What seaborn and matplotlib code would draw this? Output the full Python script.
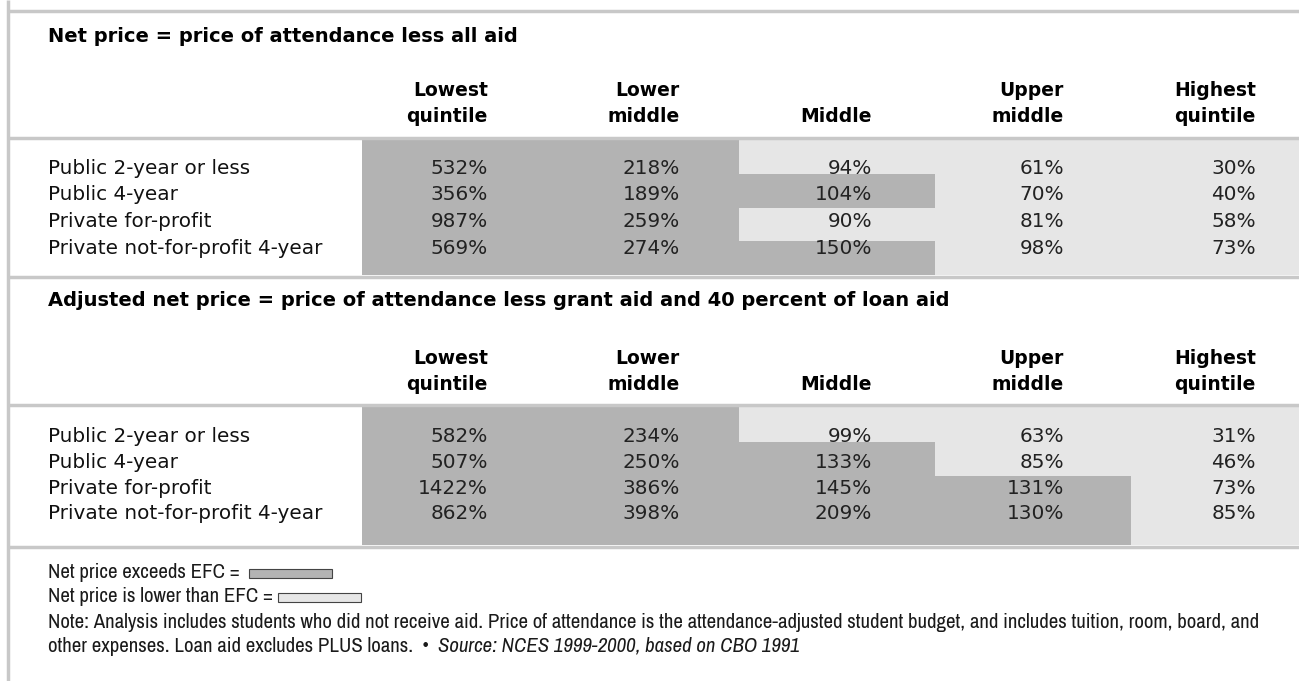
import numpy as np
import pandas as pd
import matplotlib
matplotlib.use('Agg')
import matplotlib.pyplot as plt
import matplotlib.font_manager as fm
from matplotlib.colors import ListedColormap
from matplotlib.patches import Rectangle
from matplotlib.transforms import blended_transform_factory, IdentityTransform
import seaborn as sns

sectors = ['Public 2-year or less', 'Public 4-year', 'Private for-profit',
           'Private not-for-profit 4-year']
quintiles = ['Lowest quintile', 'Lower middle', 'Middle', 'Upper middle', 'Highest quintile']
hdr_top = ['Lowest', 'Lower', '', 'Upper', 'Highest']
hdr_bot = ['quintile', 'middle', 'Middle', 'middle', 'quintile']

net_price = [[532, 218, 94, 61, 30],
             [356, 189, 104, 70, 40],
             [987, 259, 90, 81, 58],
             [569, 274, 150, 98, 73]]
adj_net_price = [[582, 234, 99, 63, 31],
                 [507, 250, 133, 85, 46],
                 [1422, 386, 145, 131, 73],
                 [862, 398, 209, 130, 85]]

titles = ['Net price = price of attendance less all aid',
          'Adjusted net price = price of attendance less grant aid and 40 percent of loan aid']

DARK = '#b3b3b3'
LIGHT = '#e6e6e6'
LINE = '#c8c8c8'

W, H = 1299, 681
sns.set_theme(style='white')
plt.rcParams['font.family'] = ['DejaVu Sans']

# narrow font for the notes if one is installed
note_family, note_stretch = 'Liberation Sans', 'normal'
for f in fm.fontManager.ttflist:
    if 'Narrow' in f.name or 'Condensed' in f.name:
        note_family = f.name
        break
else:
    for f in fm.fontManager.ttflist:
        if str(f.stretch) in ('condensed', 'semi-condensed', 'extra-condensed', '700', '750', '625'):
            note_family, note_stretch = f.name, f.stretch
            break

fig = plt.figure(figsize=(W / 100, H / 100), dpi=100)

def px_axes(x0, y0, x1, y1):
    # axes placed by pixel box (top-left origin)
    return fig.add_axes([x0 / W, 1 - y1 / H, (x1 - x0) / W, (y1 - y0) / H])

col_right = [488, 680, 872, 1064, 1256]
label_x = 48

# layout of the two blocks: title y, header y's, shading box, first row y, row pitch
blocks = [
    dict(data=net_price, title=titles[0], ty=37, h1=90, h2=116, top=140, bot=275, r0=168, pitch=26.7),
    dict(data=adj_net_price, title=titles[1], ty=300, h1=358, h2=384, top=407, bot=545, r0=437, pitch=25.5),
]

cmap = ListedColormap([LIGHT, DARK])
for b in blocks:
    df = pd.DataFrame(b['data'], index=sectors, columns=quintiles)
    ax = px_axes(362, b['top'], W, b['bot'])
    sns.heatmap((df > 100).astype(int), ax=ax, cmap=cmap, vmin=0, vmax=1, cbar=False,
                xticklabels=False, yticklabels=False, linewidths=0)
    # columns are ~196px wide; the first one is partly hidden by the label column
    ax.set_xlim(15 / 196, 15 / 196 + (W - 362) / 196)
    ax.set_axis_off()

ov = fig.add_axes([0, 0, 1, 1])
ov.set_xlim(0, W)
ov.set_ylim(H, 0)
ov.set_axis_off()

# frame lines
ov.plot([8, 8], [0, H], color=LINE, lw=2.5, solid_capstyle='butt')
for y in [11, 138, 277, 405, 547]:
    ov.plot([8, W], [y, y], color=LINE, lw=2.5, solid_capstyle='butt')

hfont = dict(fontsize=13.5, fontweight='bold', color='black')
for b in blocks:
    ov.text(label_x, b['ty'], b['title'], fontsize=14, fontweight='heavy',
            va='center', ha='left', color='black')
    for x, t1, t2 in zip(col_right, hdr_top, hdr_bot):
        if t1:
            ov.text(x, b['h1'], t1, ha='right', va='center', **hfont)
        ov.text(x, b['h2'], t2, ha='right', va='center', **hfont)
    for i, (name, row) in enumerate(zip(sectors, b['data'])):
        y = b['r0'] + i * b['pitch']
        ov.text(label_x, y, name, ha='left', va='center', fontsize=14.4, color='#111111')
        for x, v in zip(col_right, row):
            ov.text(x, y, f'{v}%', ha='right', va='center', fontsize=14.4, color='#222222')

# legend and notes
note1 = ('Note: Analysis includes students who did not receive aid. Price of attendance is the '
         'attendance-adjusted student budget, and includes tuition, room, board, and')
note2 = 'other expenses. Loan aid excludes PLUS loans.  \u2022  '
source = 'Source: NCES 1999-2000, based on CBO 1991'

nk = dict(family=note_family, stretch=note_stretch, va='center', color='#1a1a1a')
t1 = ov.text(label_x, 622, note1, fontsize=12, **nk)
fig.canvas.draw()
r = fig.canvas.get_renderer()
size = 12 * (1255 - label_x) / t1.get_window_extent(r).width
t1.set_fontsize(size)

pix = blended_transform_factory(IdentityTransform(), ov.transData)
l1 = ov.text(label_x, 573, 'Net price exceeds EFC =', fontsize=size, **nk)
l2 = ov.text(label_x, 597, 'Net price is lower than EFC =', fontsize=size, **nk)
t2 = ov.text(label_x, 646, note2, fontsize=size, **nk)
fig.canvas.draw()
e1 = l1.get_window_extent(r)
e2 = l2.get_window_extent(r)
x_box1 = ov.transData.inverted().transform((e1.x1, 0))[0] + 9
x_box2 = ov.transData.inverted().transform((e2.x1, 0))[0] + 5
ov.add_patch(Rectangle((x_box1, 569), 83, 9, facecolor=DARK, edgecolor='#444444', lw=0.8))
ov.add_patch(Rectangle((x_box2, 593), 83, 9, facecolor=LIGHT, edgecolor='#444444', lw=0.8))
ov.text(t2.get_window_extent(r).x1, 646, source, fontsize=size, style='italic',
        transform=pix, **nk)

fig.savefig('out.png', dpi=100)
